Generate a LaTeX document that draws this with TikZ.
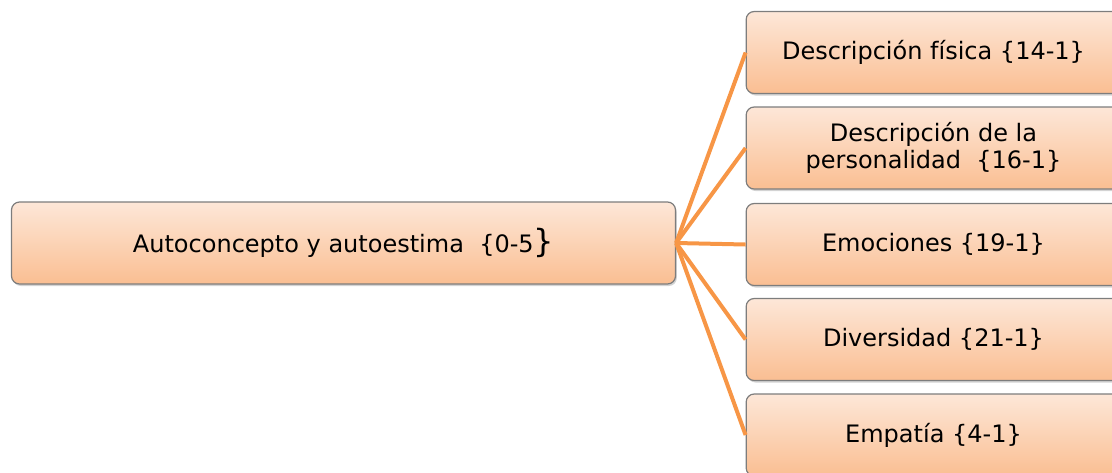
\documentclass[tikz,border=0pt]{standalone}
\usepackage{fontspec}
\setmainfont{DejaVu Sans}
\usetikzlibrary{shadows}
\definecolor{boxtop}{RGB}{253,231,216}
\definecolor{boxbottom}{RGB}{250,190,146}
\definecolor{linkorange}{RGB}{247,150,70}
\definecolor{boxborder}{RGB}{125,125,125}
\begin{document}
\begin{tikzpicture}[x=0.75pt,y=-0.75pt,
    topic/.style={shape=rectangle, draw=boxborder, line width=0.9pt, rounded corners=6pt,
      top color=boxtop, bottom color=boxbottom,
      drop shadow={shadow xshift=1pt, shadow yshift=-1.5pt, opacity=0.35},
      minimum height=61.5pt, inner sep=0pt, align=center, font=\fontsize{18}{20.5}\selectfont},
    link/.style={draw=linkorange, line width=3pt}]
    \useasboundingbox (0,0) rectangle (1112,472);
    \clip (0,0) rectangle (1112,472);
    \node (Autoconcepto) [topic, minimum width=498pt] at (343.5, 243) {Autoconcepto y autoestima\ \ \{0-5{\fontsize{24}{24}\selectfont\}}};
    \node (DescripcionFisica) [topic, minimum width=281pt] at (933.5, 52.5) {Descripción física \{14-1\}};
    \node (Personalidad) [topic, minimum width=281pt] at (933.5, 148) {Descripción de la\\personalidad\ \ \{16-1\}};
    \node (Emociones) [topic, minimum width=281pt] at (933.5, 244.5) {Emociones \{19-1\}};
    \node (Diversidad) [topic, minimum width=281pt] at (933.5, 339.5) {Diversidad \{21-1\}};
    \node (Empatia) [topic, minimum width=281pt] at (933.5, 435) {Empatía \{4-1\}};
    \draw [link] (Autoconcepto.east) -- (DescripcionFisica.west);
    \draw [link] (Autoconcepto.east) -- (Personalidad.west);
    \draw [link] (Autoconcepto.east) -- (Emociones.west);
    \draw [link] (Autoconcepto.east) -- (Diversidad.west);
    \draw [link] (Autoconcepto.east) -- (Empatia.west);
\end{tikzpicture}
\end{document}
